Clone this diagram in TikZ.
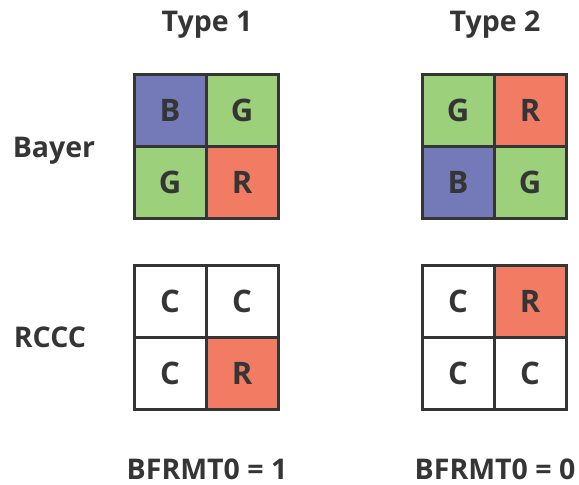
\documentclass[tikz,border=0pt]{standalone}
\usepackage{fontspec}
\setmainfont{Open Sans}
\definecolor{cb}{HTML}{7479B8}
\definecolor{cg}{HTML}{9DD07A}
\definecolor{cr}{HTML}{F27B63}
\definecolor{ink}{HTML}{353535}
\begin{document}
\begin{tikzpicture}[x=1pt,y=-1pt,
  cell/.style={draw=ink,line width=3pt,minimum size=72pt,inner sep=0pt,font=\fontsize{31}{34}\selectfont\bfseries,text=ink},
  lbl/.style={font=\fontsize{28.5}{32}\selectfont\bfseries,text=ink}]
\useasboundingbox (0,0) rectangle (579,485);
% Type 1 Bayer
\node[cell,fill=cb] (a1) at (170,110) {B};
\node[cell,fill=cg] (a2) at (242,110) {G};
\node[cell,fill=cg] (a3) at (170,182) {G};
\node[cell,fill=cr] (a4) at (242,182) {R};
% Type 2 Bayer
\node[cell,fill=cg] (b1) at (458,110) {G};
\node[cell,fill=cr] (b2) at (530,110) {R};
\node[cell,fill=cb] (b3) at (458,182) {B};
\node[cell,fill=cg] (b4) at (530,182) {G};
% Type 1 RCCC
\node[cell,fill=white] (c1) at (170,301) {C};
\node[cell,fill=white] (c2) at (242,301) {C};
\node[cell,fill=white] (c3) at (170,373) {C};
\node[cell,fill=cr] (c4) at (242,373) {R};
% Type 2 RCCC
\node[cell,fill=white] (d1) at (458,301) {C};
\node[cell,fill=cr] (d2) at (530,301) {R};
\node[cell,fill=white] (d3) at (458,373) {C};
\node[cell,fill=white] (d4) at (530,373) {C};
% labels
\node[lbl] (t1) at (207,25) {Type 1};
\node[lbl] (t2) at (495,25) {Type 2};
\node[lbl] (by) at (54,151) {Bayer};
\node[lbl] (rc) at (50,337) {RCCC};
\node[lbl] (f1) at (207,469) {BFRMT0 = 1};
\node[lbl] (f2) at (495,469) {BFRMT0 = 0};
\end{tikzpicture}
\end{document}
